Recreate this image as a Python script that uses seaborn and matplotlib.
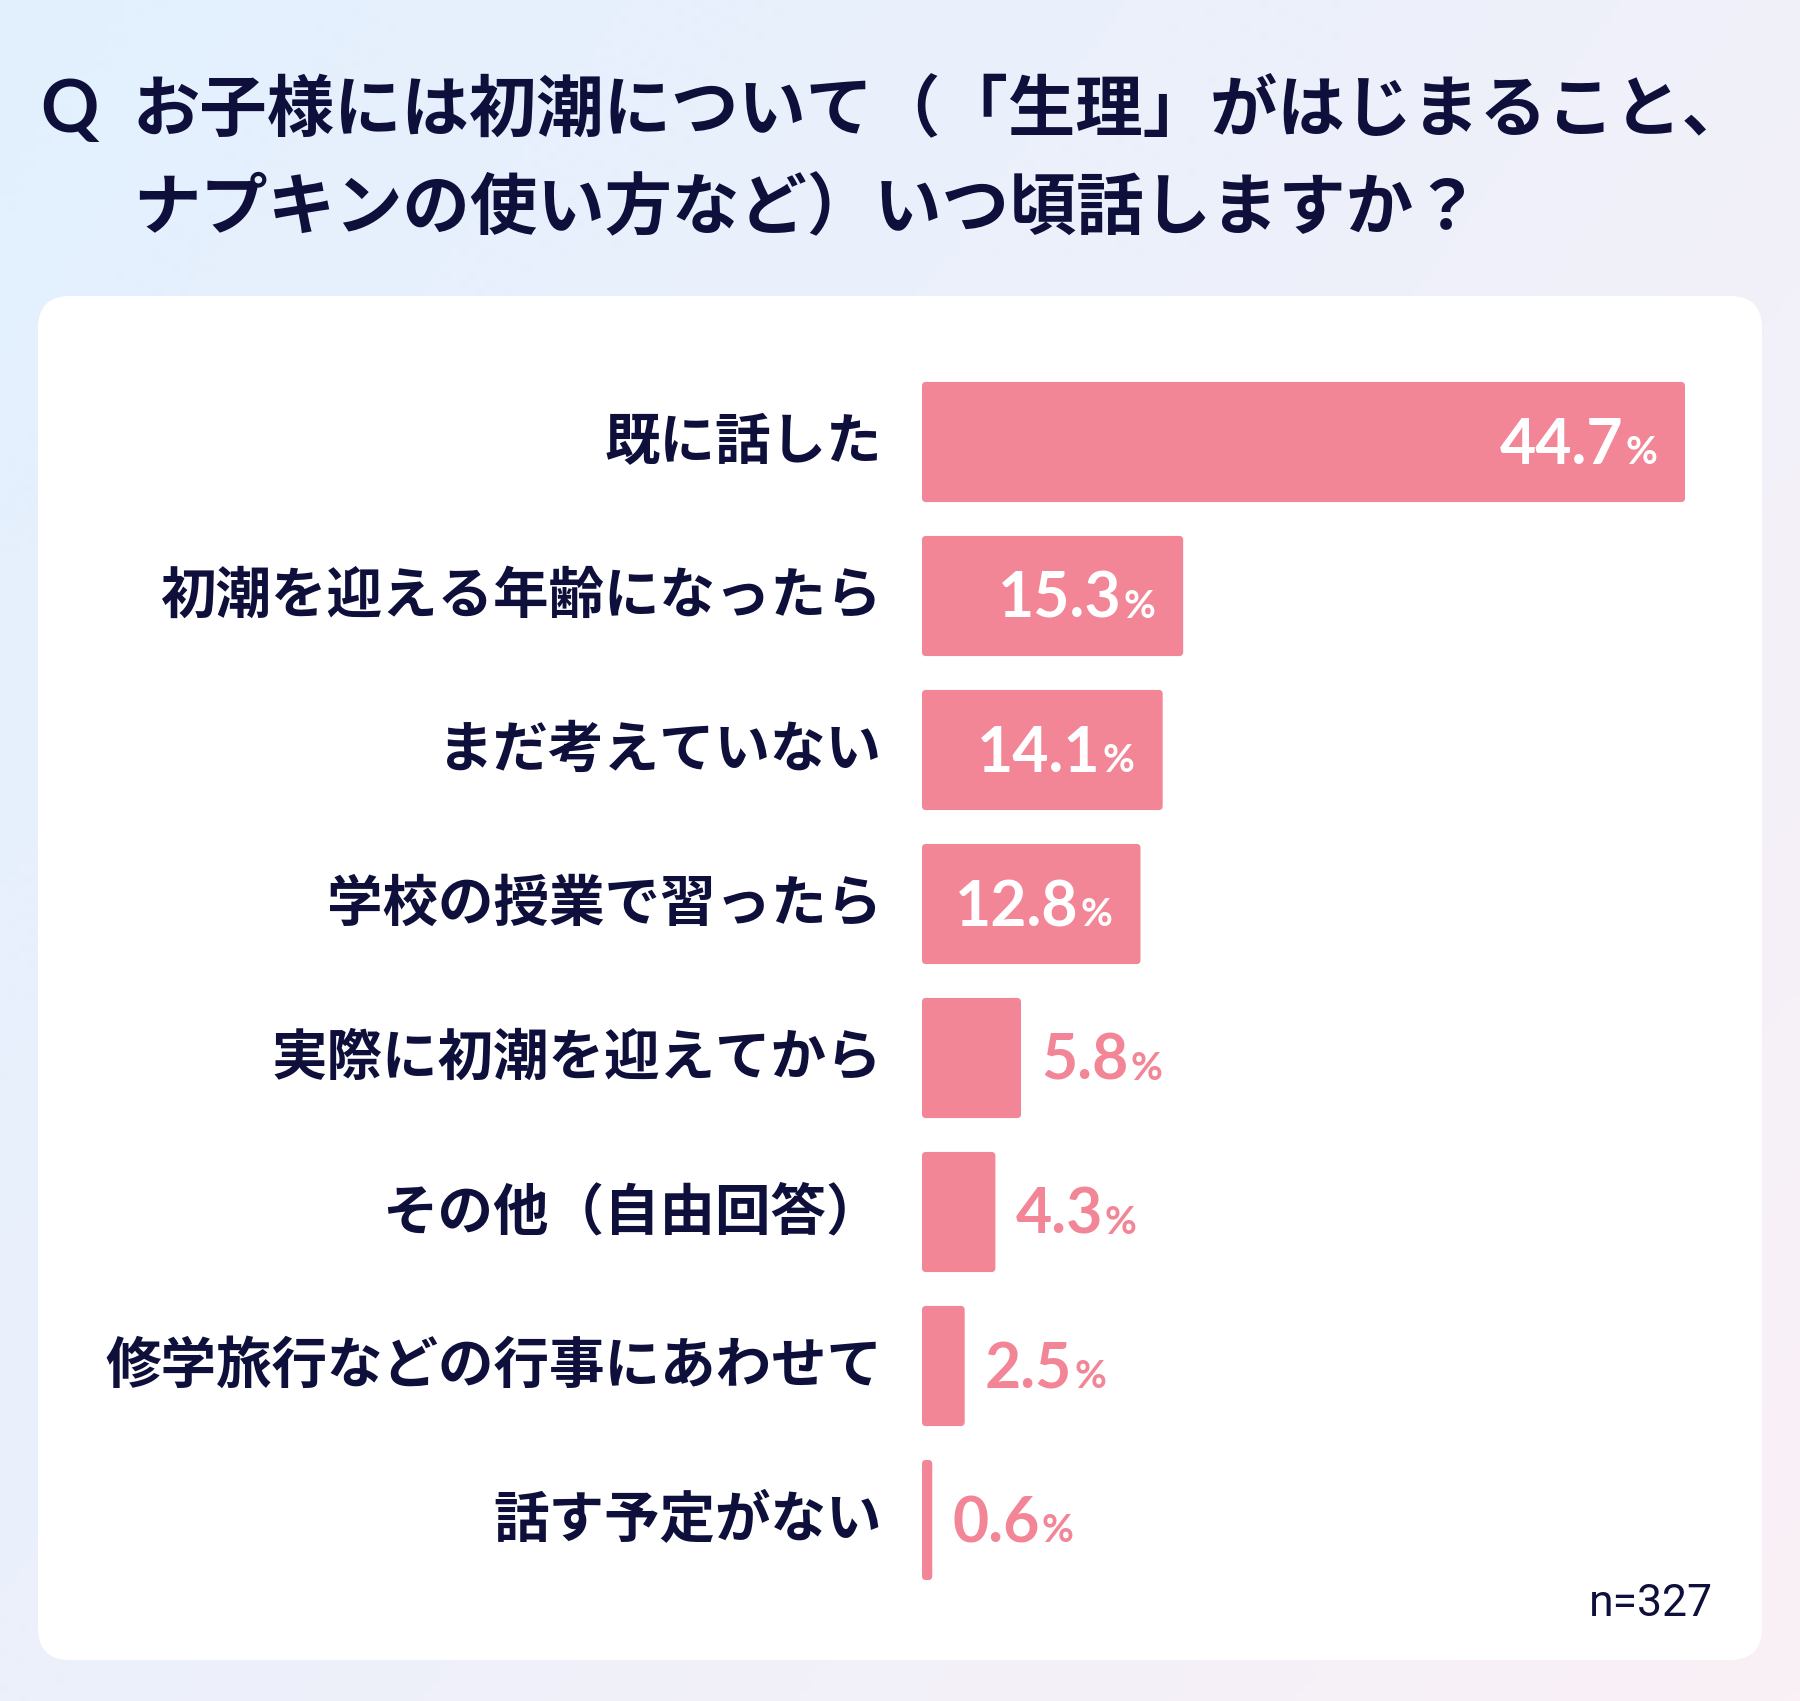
import numpy as np
import pandas as pd
import matplotlib
matplotlib.use("Agg")
import matplotlib.pyplot as plt
from matplotlib.patches import FancyBboxPatch
import seaborn as sns

# ---- data ----
categories = ["既に話した", "初潮を迎える年齢になったら", "まだ考えていない", "学校の授業で習ったら",
              "実際に初潮を迎えてから", "その他（自由回答）", "修学旅行などの行事にあわせて", "話す予定がない"]
values = [44.7, 15.3, 14.1, 12.8, 5.8, 4.3, 2.5, 0.6]
title_line1 = "お子様には初潮について（「生理」がはじまること、"
title_line2 = "ナプキンの使い方など）いつ頃話しますか？"
note = "n=327"

sns.set_theme(style="white")
plt.rcParams['font.family'] = ['Noto Sans CJK JP', 'DejaVu Sans']

NAVY = "#0E0F3B"
PINK = "#F28596"
W, H = 1800, 1701
fig = plt.figure(figsize=(W / 100, H / 100), dpi=100)

# background axes in pixel coordinates
bg = fig.add_axes([0, 0, 1, 1], zorder=0)
bg.set_xlim(0, W)
bg.set_ylim(H, 0)
bg.axis("off")
yy, xx = np.mgrid[0:1:200j, 0:1:200j]
t = (xx * 0.6 + yy * 0.4)
c0 = np.array([226, 240, 254]) / 255
c1 = np.array([250, 240, 246]) / 255
grad = c0[None, None, :] * (1 - t[..., None]) + c1[None, None, :] * t[..., None]
bg.imshow(grad, extent=[0, W, H, 0], aspect="auto", zorder=0)
card = FancyBboxPatch((38, 296), 1724, 1364, boxstyle="round,pad=0,rounding_size=32",
                      facecolor="white", edgecolor="none", zorder=1)
bg.add_patch(card)

# title
bg.text(40, 112, "Q", fontsize=52, fontweight="bold", color=NAVY, ha="left", va="center",
        family=["Lato", "DejaVu Sans"], zorder=3)
bg.text(133, 112, title_line1, fontsize=48.5, fontweight="bold", color=NAVY, ha="left", va="center", zorder=3)
bg.text(133, 210, title_line2, fontsize=48.5, fontweight="bold", color=NAVY, ha="left", va="center", zorder=3)
bg.text(1713, 1616, note, fontsize=32, color=NAVY, ha="right", va="baseline",
        family=["Roboto", "DejaVu Sans"], zorder=3)

# main axes
ax_left, ax_right = 922, 1685
ax_top, ax_bot = 365, 1597
ax = fig.add_axes([ax_left / W, 1 - ax_bot / H, (ax_right - ax_left) / W, (ax_bot - ax_top) / H], zorder=2)
ax.patch.set_alpha(0)
df = pd.DataFrame({"cat": categories, "val": values})
sns.barplot(data=df, x="val", y="cat", orient="h", color=PINK, saturation=1, width=0.78, ax=ax)
ax.set_xlim(0, max(values))
ax.set_ylim(len(categories) - 0.5, -0.5)
for s in ax.spines.values():
    s.set_visible(False)
ax.set_xticks([])
ax.set_yticks([])
ax.set_xlabel("")
ax.set_ylabel("")

# category labels centred on bars
for i, c in enumerate(categories):
    ax.annotate(c, xy=(0, i), xytext=(-40, -1), textcoords="offset pixels",
                ha="right", va="center", fontsize=40, fontweight="bold",
                color=NAVY, annotation_clip=False, zorder=4)

# rounded bars
px_per_x = (ax_right - ax_left) / max(values)
px_per_y = (ax_bot - ax_top) / len(categories)
for p in list(ax.patches):
    x, y = p.get_x(), p.get_y()
    w, h = p.get_width(), p.get_height()
    r = 4 / px_per_x
    fb = FancyBboxPatch((x, y), w, h, boxstyle=f"round,pad=0,rounding_size={r}",
                        mutation_aspect=px_per_x / px_per_y,
                        facecolor=PINK, edgecolor="none", zorder=2)
    p.remove()
    ax.add_patch(fb)

fig.canvas.draw()
renderer = fig.canvas.get_renderer()
numfam = ["Lato", "DejaVu Sans"]
for i, v in enumerate(values):
    num = f"{v:.1f}"
    if v > 10:
        pct = ax.annotate("%", xy=(v, i), xytext=(-28, -22), textcoords="offset pixels",
                          ha="right", va="baseline", fontsize=28, fontweight="bold",
                          color="white", family=numfam, zorder=4)
        fig.canvas.draw()
        bb = pct.get_window_extent(renderer)
        x_pct_left = bb.x0
        bar_end_px = ax.transData.transform((v, i))[0]
        ax.annotate(num, xy=(v, i), xytext=(x_pct_left - 2 - bar_end_px, -22), textcoords="offset pixels",
                    ha="right", va="baseline", fontsize=45, fontweight="bold",
                    color="white", family=numfam, zorder=4)
    else:
        t1 = ax.annotate(num, xy=(v, i), xytext=(20, -22), textcoords="offset pixels",
                         ha="left", va="baseline", fontsize=45, fontweight="bold",
                         color=PINK, family=numfam, zorder=4)
        fig.canvas.draw()
        bb = t1.get_window_extent(renderer)
        bar_end_px = ax.transData.transform((v, i))[0]
        ax.annotate("%", xy=(v, i), xytext=(bb.x1 + 2 - bar_end_px, -22), textcoords="offset pixels",
                    ha="left", va="baseline", fontsize=28, fontweight="bold",
                    color=PINK, family=numfam, zorder=4)

fig.savefig("out.png", dpi=100)
